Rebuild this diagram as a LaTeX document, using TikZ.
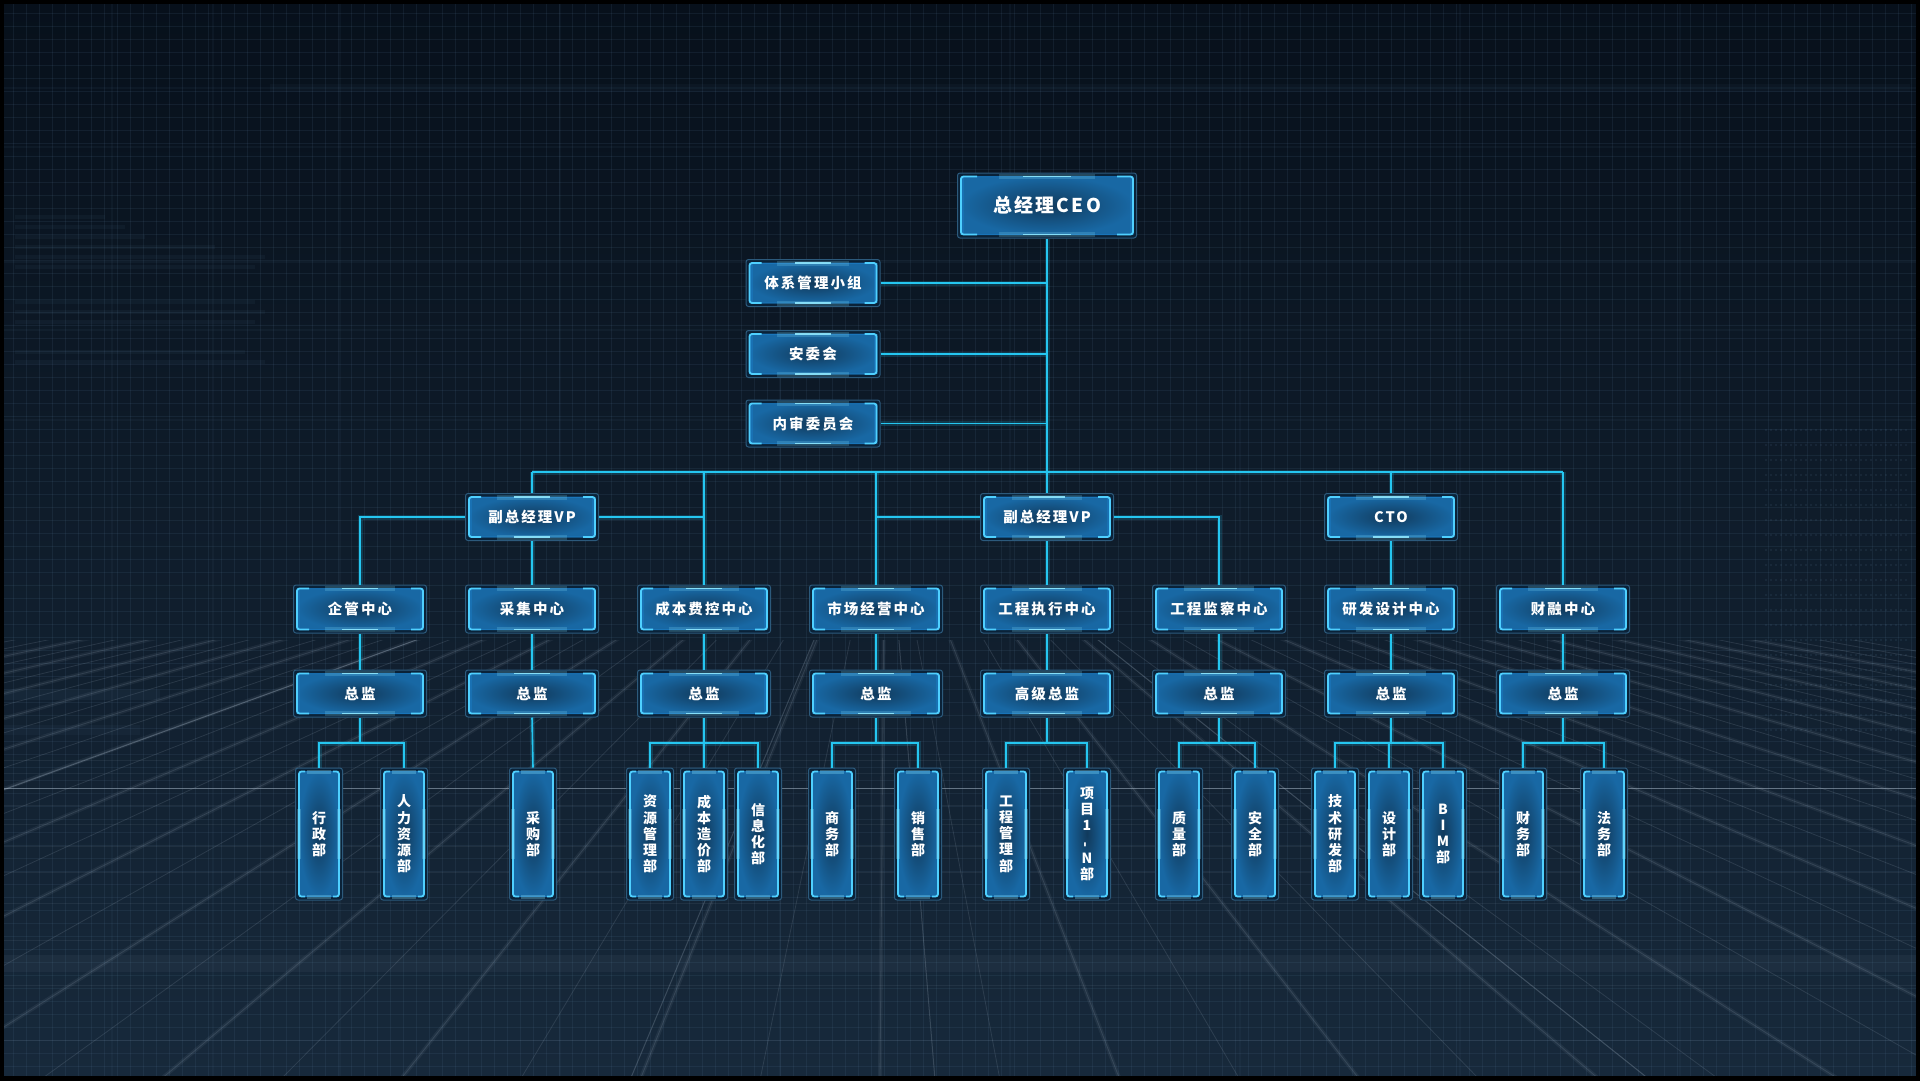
\documentclass[tikz,border=0pt]{standalone}
\usepackage{fontspec}
\newfontfamily\cjk[LetterSpace=14]{Noto Sans CJK SC}
\newfontfamily\cjkceo[LetterSpace=12]{Noto Sans CJK SC}
\newfontfamily\cjkv{Noto Sans CJK SC}
\usetikzlibrary{calc}
\definecolor{bgA}{HTML}{07101B}
\definecolor{bgB}{HTML}{0B1929}
\definecolor{bgC}{HTML}{17293B}
\definecolor{gridc}{HTML}{5A7C9C}
\definecolor{linec}{HTML}{25C6F0}
\definecolor{boxline}{HTML}{2C5A7C}
\definecolor{boxdark}{HTML}{0A2238}
\definecolor{boxin}{HTML}{113A5C}
\definecolor{boxout}{HTML}{1868A4}
\definecolor{edgec}{HTML}{1E8EE0}
\definecolor{brk}{HTML}{4FD0FF}
\definecolor{glowc}{HTML}{8FE8FF}
\definecolor{floorc}{HTML}{B8C8D8}

\newcommand\boxpic[1]{%
  \path (path picture bounding box.south west) ++(3.5pt,3.5pt) coordinate (pa);
  \path (path picture bounding box.north east) ++(-3.5pt,-3.5pt) coordinate (pb);
  \coordinate (pc) at (pa |- pb);
  \coordinate (pd) at (pb |- pa);
  \shade[inner color=boxin, outer color=boxout] (pa) rectangle (pb);
  \draw[edgec, line width=1pt, opacity=.6] (pa) rectangle (pb);
  \draw[edgec, line width=4pt, opacity=.25] ($(pa)+(1pt,0pt)$) -- ($(pc)+(1pt,0pt)$);
  \draw[edgec, line width=4pt, opacity=.25] ($(pd)+(-1pt,0pt)$) -- ($(pb)+(-1pt,0pt)$);
  \draw[brk, line width=1.8pt] ($(pc)+(#1,0pt)$) -- (pc) -- (pa) -- ($(pa)+(#1,0pt)$);
  \draw[brk, line width=1.8pt] ($(pb)+(-#1,0pt)$) -- (pb) -- (pd) -- ($(pd)+(-#1,0pt)$);
  \draw[glowc, line width=5pt, opacity=.2] ($(pc)!.22!(pb)$) -- ($(pc)!.78!(pb)$);
  \draw[glowc, line width=1.6pt, opacity=.9] ($(pc)!.36!(pb)$) -- ($(pc)!.64!(pb)$);
  \draw[glowc, line width=5pt, opacity=.2] ($(pa)!.22!(pd)$) -- ($(pa)!.78!(pd)$);
  \draw[glowc, line width=1.6pt, opacity=.9] ($(pa)!.36!(pd)$) -- ($(pa)!.64!(pd)$);
}
\newcommand\leafpic{%
  \path (path picture bounding box.south west) ++(3.5pt,3.5pt) coordinate (pa);
  \path (path picture bounding box.north east) ++(-3.5pt,-3.5pt) coordinate (pb);
  \coordinate (pc) at (pa |- pb);
  \coordinate (pd) at (pb |- pa);
  \shade[inner color=boxin, outer color=boxout] (pa) rectangle (pb);
  \draw[edgec, line width=1pt, opacity=.6] (pa) rectangle (pb);
  \draw[brk, line width=1.8pt] ($(pc)+(6pt,0pt)$) -- (pc) -- (pa) -- ($(pa)+(6pt,0pt)$);
  \draw[brk, line width=1.8pt] ($(pb)+(-6pt,0pt)$) -- (pb) -- (pd) -- ($(pd)+(-6pt,0pt)$);
  \draw[glowc, line width=4pt, opacity=.25] ($(pa)!.3!(pc)$) -- ($(pa)!.7!(pc)$);
  \draw[glowc, line width=4pt, opacity=.25] ($(pd)!.3!(pb)$) -- ($(pd)!.7!(pb)$);
  \draw[glowc, line width=4pt, opacity=.3] ($(pc)!.2!(pb)$) -- ($(pc)!.8!(pb)$);
  \draw[glowc, line width=4pt, opacity=.3] ($(pa)!.2!(pd)$) -- ($(pa)!.8!(pd)$);
}

\tikzset{
  gbase/.style={rectangle, rounded corners=2.5pt, draw=boxline, line width=1pt,
    fill=boxdark, inner sep=0pt, text=white, align=center},
  gbox/.style={gbase, minimum width=133pt, minimum height=47pt,
    font=\cjk\bfseries\fontsize{14.5}{16}\selectfont, path picture={\boxpic{12pt}}},
  ceobox/.style={gbase, minimum width=179pt, minimum height=65pt,
    font=\cjkceo\bfseries\fontsize{19}{22}\selectfont, path picture={\boxpic{16pt}}},
  leafbox/.style={gbase, minimum width=47pt, minimum height=132pt,
    font=\cjkv\bfseries\fontsize{14}{16.2}\selectfont, path picture={\leafpic}},
  conn/.style={draw=linec, line width=1.6pt,
    preaction={draw=linec, line width=5pt, draw opacity=.18}},
  fine/.style={draw=gridc, line width=.6pt, draw opacity=.13},
  coarse/.style={draw=gridc, line width=1.5pt, draw opacity=.07},
  floorl/.style={draw=floorc, line width=.8pt, draw opacity=.14},
  floorw/.style={draw=floorc, line width=4pt, draw opacity=.07},
}

\begin{document}
\begin{tikzpicture}[x=1pt, y=-1pt]
\useasboundingbox (0,0) rectangle (1920,1080);
% ---------- background ----------
\shade[top color=bgA, middle color=bgB, bottom color=bgC] (0,0) rectangle (1920,1080);
\foreach \x in {0,13,...,1920} \draw[fine] (\x,0) -- (\x,1080);
\foreach \y in {0,13,...,1080} \draw[fine] (0,\y) -- (1920,\y);
\foreach \x in {112,213,340,560,780,1010,1240,1460,1680} \draw[coarse] (\x,0) -- (\x,1080);
\foreach \y in {88,147,262,330,420} \draw[coarse] (0,\y) -- (1920,\y);
% faint hud blocks
\foreach \y/\w in {215/90,225/110,235/130,245/200,255/250,265/240,300/240,310/250,320/240,350/230,360/250}
  \fill[gridc, opacity=.07] (15,\y) rectangle (15+\w,\y+4);
\fill[gridc, opacity=.05] (270,84) rectangle (1910,92);
\foreach \y in {430,445,...,730} \draw[gridc, opacity=.12, dash pattern=on 2pt off 3pt, line width=1.5pt] (1765,\y) -- (1910,\y);
\fill[gridc, opacity=.08] (0,690) rectangle (160,700);
\fill[gridc, opacity=.06] (0,725) rectangle (140,735);
% perspective floor
\begin{scope}
  \clip (0,640) rectangle (1920,1080);
  \foreach \bx in {-2600,-2480,...,4400} \draw[floorl] (885,470) -- (\bx,1080);
  \foreach \bx in {-2000,-1760,...,4000} \draw[floorw] (885,470) -- (\bx,1080);
  \draw[floorc, opacity=.30, line width=.8pt] (885,470) -- (-300,900);
  \draw[floorc, opacity=.25, line width=1pt] (885,470) -- (1650,1080);
  \draw[floorc, opacity=.22, line width=1pt] (885,470) -- (630,1080);
  \draw[floorc, opacity=.2, line width=1pt] (885,470) -- (935,1080);
\end{scope}
\foreach \y in {760,773,788,805,824,846,872,903,940,985,1040}
  \draw[floorc, opacity=.08, line width=.8pt] (0,\y) -- (1920,\y);
\fill[floorc, opacity=.05] (0,955) rectangle (1920,972);
\draw[floorc, opacity=.45, line width=.8pt] (0,788) -- (1920,788);

% ---------- nodes ----------
\node[ceobox] (ceo) at (1047,205.5) {总经理CEO};
\node[gbox, minimum width=134pt] (g1) at (813,283) {体系管理小组};
\node[gbox, minimum width=134pt] (g2) at (813,354) {安委会};
\node[gbox, minimum width=134pt] (g3) at (813,423.5) {内审委员会};
\coordinate (bus) at (0,472);
\coordinate (brk) at (0,743);

\node[gbox] (vp1) at (532,517) {副总经理VP};
\node[gbox] (vp2) at (1047,517) {副总经理VP};
\node[gbox] (cto) at (1391,517) {CTO};

\node[gbox, minimum height=48pt] (c1) at (360,609) {企管中心};
\node[gbox, minimum height=48pt] (c2) at (532,609) {采集中心};
\node[gbox, minimum height=48pt] (c3) at (704,609) {成本费控中心};
\node[gbox, minimum height=48pt] (c4) at (876,609) {市场经营中心};
\node[gbox, minimum height=48pt] (c5) at (1047,609) {工程执行中心};
\node[gbox, minimum height=48pt] (c6) at (1219,609) {工程监察中心};
\node[gbox, minimum height=48pt] (c7) at (1391,609) {研发设计中心};
\node[gbox, minimum height=48pt] (c8) at (1563,609) {财融中心};

\node[gbox] (z1) at (360,693.5) {总监};
\node[gbox] (z2) at (532,693.5) {总监};
\node[gbox] (z3) at (704,693.5) {总监};
\node[gbox] (z4) at (876,693.5) {总监};
\node[gbox] (z5) at (1047,693.5) {高级总监};
\node[gbox] (z6) at (1219,693.5) {总监};
\node[gbox] (z7) at (1391,693.5) {总监};
\node[gbox] (z8) at (1563,693.5) {总监};

\node[leafbox] (l1a) at (319,834) {行\\政\\部};
\node[leafbox] (l1b) at (404,834) {人\\力\\资\\源\\部};
\node[leafbox] (l2a) at (533,834) {采\\购\\部};
\node[leafbox] (l3a) at (650,834) {资\\源\\管\\理\\部};
\node[leafbox] (l3b) at (704,834) {成\\本\\造\\价\\部};
\node[leafbox] (l3c) at (758,834) {信\\息\\化\\部};
\node[leafbox] (l4a) at (832,834) {商\\务\\部};
\node[leafbox] (l4b) at (918,834) {销\\售\\部};
\node[leafbox] (l5a) at (1006,834) {工\\程\\管\\理\\部};
\node[leafbox] (l5b) at (1087,834) {项\\目\\1\\\rotatebox{90}{-}\\N\\部};
\node[leafbox] (l6a) at (1179,834) {质\\量\\部};
\node[leafbox] (l6b) at (1255,834) {安\\全\\部};
\node[leafbox] (l7a) at (1335,834) {技\\术\\研\\发\\部};
\node[leafbox] (l7b) at (1389,834) {设\\计\\部};
\node[leafbox] (l7c) at (1443,834) {B\\I\\M\\部};
\node[leafbox] (l8a) at (1523,834) {财\\务\\部};
\node[leafbox] (l8b) at (1604,834) {法\\务\\部};

% ---------- connectors ----------
\draw[conn] (ceo.south) -- (vp2.north);
\draw[conn] (g1.east) -- (g1.east -| ceo.south);
\draw[conn] (g2.east) -- (g2.east -| ceo.south);
\draw[conn] (g3.east) -- (g3.east -| ceo.south);
\draw[conn] (vp1.north |- bus) -- (c8.north |- bus);
\draw[conn] (vp1.north) -- (vp1.north |- bus);
\draw[conn] (c3.north) -- (c3.north |- bus);
\draw[conn] (c4.north) -- (c4.north |- bus);
\draw[conn] (cto.north) -- (cto.north |- bus);
\draw[conn] (c8.north) -- (c8.north |- bus);
\draw[conn] (vp1.west) -| (c1.north);
\draw[conn] (vp1.east) -- (vp1.east -| c3.north);
\draw[conn] (vp1.south) -- (c2.north);
\draw[conn] (vp2.west) -- (vp2.west -| c4.north);
\draw[conn] (vp2.east) -| (c6.north);
\draw[conn] (vp2.south) -- (c5.north);
\draw[conn] (cto.south) -- (c7.north);
\foreach \i in {1,...,8} \draw[conn] (c\i.south) -- (z\i.north);
\foreach \i in {1,3,4,5,6,7,8} \draw[conn] (z\i.south) -- (z\i.south |- brk);
\draw[conn] (z2.south) -- (l2a.north);
\draw[conn] (l1a.north) -- (l1a.north |- brk) -- (l1b.north |- brk) -- (l1b.north);
\draw[conn] (l3a.north) -- (l3a.north |- brk) -- (l3c.north |- brk) -- (l3c.north);
\draw[conn] (l3b.north) -- (l3b.north |- brk);
\draw[conn] (l4a.north) -- (l4a.north |- brk) -- (l4b.north |- brk) -- (l4b.north);
\draw[conn] (l5a.north) -- (l5a.north |- brk) -- (l5b.north |- brk) -- (l5b.north);
\draw[conn] (l6a.north) -- (l6a.north |- brk) -- (l6b.north |- brk) -- (l6b.north);
\draw[conn] (l7a.north) -- (l7a.north |- brk) -- (l7c.north |- brk) -- (l7c.north);
\draw[conn] (l7b.north) -- (l7b.north |- brk);
\draw[conn] (l8a.north) -- (l8a.north |- brk) -- (l8b.north |- brk) -- (l8b.north);

% frame
\draw[black, line width=8pt] (0,0) rectangle (1920,1080);
\end{tikzpicture}
\end{document}
